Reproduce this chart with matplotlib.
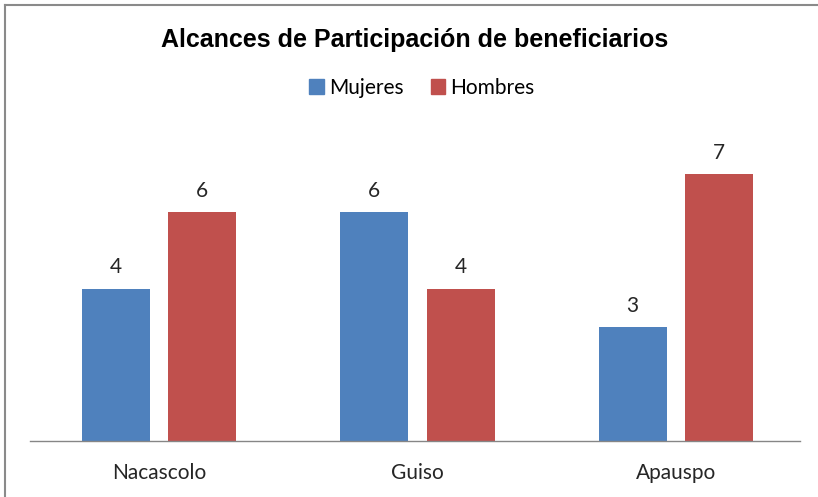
import numpy as np
import matplotlib
matplotlib.use("Agg")
import matplotlib.pyplot as plt
from matplotlib.lines import Line2D
from matplotlib.patches import Patch

categorias = ["Nacascolo", "Guiso", "Apauspo"]
mujeres = [4, 6, 3]
hombres = [6, 4, 7]
series = ["Mujeres", "Hombres"]

azul = "#4F81BD"
rojo = "#C0504D"
texto = "#262626"
label_font = ["Lato", "DejaVu Sans"]

W, H = 818, 497
fig = plt.figure(figsize=(W / 100, H / 100), dpi=100)

# plot area in pixels: x 30..805, baseline y=441, 8 units tall (~38 px each)
left, right, base = 30, 805, 441
top = base - 8 * 38.1
ax = fig.add_axes([left / W, 1 - base / H, (right - left) / W, (base - top) / H])

x = np.arange(len(categorias))
w = 0.263
off = 0.167
b1 = ax.bar(x - off, mujeres, w, color=azul, label=series[0])
b2 = ax.bar(x + off, hombres, w, color=rojo, label=series[1])

for bars in (b1, b2):
    for r in bars:
        ax.annotate(f"{r.get_height():g}", (r.get_x() + r.get_width() / 2, r.get_height()),
                    xytext=(0, 8), textcoords="offset points", ha="center", va="bottom",
                    fontsize=15, color=texto, family=label_font)

ax.set_xlim(-0.5, 2.5)
ax.set_ylim(0, 8)
ax.set_yticks([])
ax.set_xticks(x)
ax.set_xticklabels(categorias, fontsize=15, color=texto, family=label_font)
ax.tick_params(axis="x", length=0, pad=16)
for s in ["top", "right", "left"]:
    ax.spines[s].set_visible(False)
ax.spines["bottom"].set_color("#868686")
ax.spines["bottom"].set_linewidth(1.0)
ax.spines["bottom"].set_bounds(-0.5, 2.48)

fig.text(415 / W, 1 - 40 / H, "Alcances de Participación de beneficiarios",
         ha="center", va="center", fontsize=18, fontweight="bold",
         family=["Liberation Sans", "DejaVu Sans"], color="black")

handles = [Patch(color=azul), Patch(color=rojo)]
fig.legend(handles, series, loc="center", bbox_to_anchor=(422 / W, 1 - 88 / H),
           ncol=2, frameon=False, handlelength=0.7, handleheight=0.7,
           handletextpad=0.25, columnspacing=1.3,
           prop={"family": label_font, "size": 15})

# outer frame (top and left edges visible)
fig.add_artist(Line2D([5 / W, 1], [1 - 5 / H, 1 - 5 / H], color="#8a8a8a", lw=1.5))
fig.add_artist(Line2D([5 / W, 5 / W], [0, 1 - 5 / H], color="#8a8a8a", lw=1.5))

fig.savefig("out.png", dpi=100)
